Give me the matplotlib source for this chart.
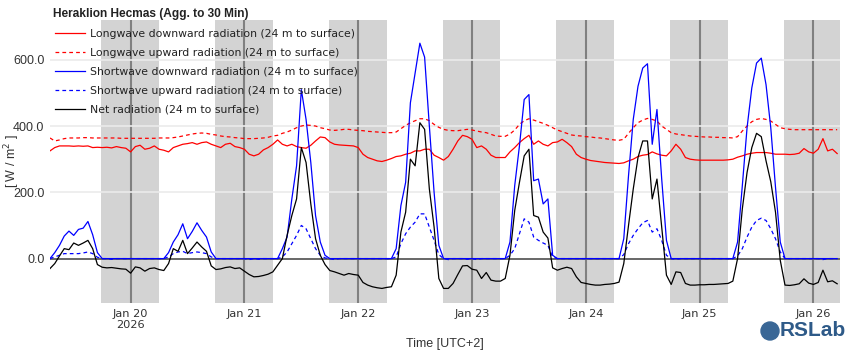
import numpy as np
import pandas as pd
import matplotlib
matplotlib.use("Agg")
import matplotlib.pyplot as plt
from matplotlib.patches import Ellipse

# hourly samples, Jan 19 07:00 .. Jan 26 05:00 (UTC+2)
start = "2026-01-19 07:00"

# W/m2
sw_down = [0, 18, 40, 68, 83, 70, 88, 92, 112, 72, 18, 0, 0, 0, 0, 0, 0,
           0, 0, 0, 0, 0, 0, 0, 0, 18, 50, 72, 105, 60, 82, 108, 85, 65, 20, 0, 0, 0, 0, 0, 0,
           0, 0, 0, 0, 0, 0, 0, 0, 30, 65, 180, 280, 510, 420, 290, 130, 50, 10, 0, 0, 0, 0, 0, 0,
           0, 0, 0, 0, 0, 0, 0, 0, 30, 160, 230, 470, 560, 650, 608, 400, 200, 40, 0, 0, 0, 0, 0, 0,
           0, 0, 0, 0, 0, 0, 0, 0, 50, 220, 340, 480, 495, 235, 240, 165, 180, 10, 0, 0, 0, 0, 0, 0,
           0, 0, 0, 0, 0, 0, 0, 0, 60, 250, 420, 520, 575, 588, 345, 450, 240, 55, 0, 0, 0, 0, 0, 0,
           0, 0, 0, 0, 0, 0, 0, 0, 50, 220, 395, 515, 590, 605, 525, 395, 215, 50, 0, 0, 0, 0, 0, 0,
           0, 0, 0, 0, 0, 0]

sw_up = [0, 5, 10, 15, 15, 15, 15, 17, 20, 15, 4, 0, 0, -2, 0, 0, 0,
         0, 0, 0, 0, 0, 0, 0, 0, 5, 15, 20, 22, 15, 18, 20, 18, 15, 5, 0, 0, 0, 0, 0, 0,
         0, -3, 0, -2, 0, 0, 0, 0, 5, 20, 45, 70, 100, 90, 60, 30, 10, 2, 0, -3, 0, 0, 0, 0,
         0, 0, 0, 0, 0, 0, 0, 0, 5, 45, 75, 95, 110, 135, 135, 95, 55, 12, 0, -3, 0, 0, 0, -2,
         0, -3, 0, 0, 0, 0, 0, 0, 10, 30, 75, 120, 110, 65, 55, 47, 40, 5, 0, 0, 0, 0, 0, 0,
         0, 0, 0, 0, 0, 0, 0, 0, 12, 45, 70, 90, 108, 115, 80, 90, 55, 10, 0, -2, 0, 0, 0, 0,
         0, 0, 0, 0, 0, 0, 0, 0, 8, 30, 65, 95, 115, 122, 115, 90, 60, 20, 0, 0, 0, 0, 0, 0,
         0, 0, -3, 0, 0, 0]

lw_down = [325, 335, 340, 340, 340, 339, 340, 339, 340, 335, 336, 335, 336, 334, 338, 335, 333,
           322, 338, 342, 330, 333, 340, 330, 327, 322, 335, 340, 345, 347, 350, 345, 350, 352, 345, 340, 335, 345, 348, 338, 335,
           330, 315, 310, 315, 328, 335, 345, 358, 345, 340, 345, 338, 335, 333, 342, 355, 367, 365, 352, 345, 343, 342, 341, 340,
           335, 315, 305, 300, 295, 293, 297, 302, 308, 310, 315, 318, 325, 325, 330, 330, 312, 305, 297, 308, 330, 355, 372, 368,
           360, 335, 340, 330, 312, 305, 305, 305, 322, 335, 350, 362, 372, 345, 355, 345, 340, 350, 352, 360, 350, 338, 315, 305,
           300, 296, 294, 292, 290, 289, 288, 287, 289, 295, 300, 308, 312, 314, 322, 316, 312, 310, 325, 345, 330, 305, 300, 298,
           297, 297, 297, 297, 297, 297, 298, 300, 306, 310, 315, 318, 320, 320, 320, 318, 315, 315, 315, 314, 315, 318, 332, 322,
           318, 330, 362, 325, 330, 317]

lw_up = [364, 355, 358, 362, 364, 364, 364, 365, 365, 364, 364, 364, 364, 364, 364, 363, 363,
         363, 363, 363, 363, 363, 363, 364, 364, 364, 365, 367, 370, 373, 376, 378, 379, 378, 375, 373, 370, 368, 367, 365, 364,
         362, 362, 362, 363, 364, 366, 370, 372, 378, 382, 388, 395, 400, 403, 402, 400, 395, 392, 388, 387, 388, 390, 390, 388,
         387, 386, 384, 383, 382, 381, 380, 380, 382, 392, 402, 410, 416, 422, 422, 416, 405, 396, 390, 387, 386, 386, 388, 390,
         388, 385, 382, 380, 375, 370, 369, 369, 376, 388, 405, 416, 422, 418, 413, 408, 402, 395, 388, 383, 378, 373, 371, 370,
         368, 367, 365, 364, 362, 360, 358, 357, 360, 378, 395, 410, 418, 423, 420, 415, 400, 390, 380, 376, 374, 372, 370, 369,
         368, 367, 367, 366, 366, 365, 365, 364, 368, 385, 400, 413, 420, 423, 420, 415, 405, 395, 392, 390, 389, 389, 389, 389,
         389, 389, 389, 389, 389, 389]

net = [-30, -15, 8, 30, 27, 47, 40, 47, 55, 30, -18, -26, -28, -27, -29, -31, -32,
       -44, -25, -28, -38, -30, -28, -33, -36, -15, 30, 22, 55, 15, 32, 50, 35, 22, -22, -33, -31, -27, -25, -30, -28,
       -38, -48, -55, -54, -51, -47, -40, -20, 0, 70, 130, 180, 335, 290, 165, 60, 10, -18, -36, -40, -45, -50, -45, -48,
       -50, -72, -80, -85, -88, -90, -87, -85, -50, 80, 140, 300, 280, 410, 390, 210, 95, -60, -90, -90, -75, -48, -22, -21,
       -32, -35, -60, -42, -65, -68, -68, -60, 10, 145, 230, 310, 330, 130, 125, 80, 62, -28, -35, -30, -26, -30, -55, -72,
       -75, -78, -80, -80, -78, -77, -75, -71, -15, 100, 210, 305, 355, 355, 180, 240, 95, -50, -78, -40, -42, -75, -80, -80,
       -79, -79, -78, -78, -77, -76, -75, -68, 0, 150, 260, 335, 378, 368, 295, 232, 140, -5, -80, -81, -79, -76, -61, -74,
       -78, -72, -35, -70, -67, -76]

day_labels = ["Jan 20\n2026", "Jan 21", "Jan 22", "Jan 23", "Jan 24", "Jan 25", "Jan 26"]
series_names = ["Longwave downward radiation (24 m to surface)",
                "Longwave upward radiation (24 m to surface)",
                "Shortwave downward radiation (24 m to surface)",
                "Shortwave upward radiation (24 m to surface)",
                "Net radiation (24 m to surface)"]

times = pd.date_range(start, periods=len(net), freq="h")
midnights = pd.date_range("2026-01-20", "2026-01-26", freq="D")

fig = plt.figure(figsize=(8.5, 3.5), dpi=100)
ax = fig.add_axes([50 / 850, 1 - 303 / 350, 790 / 850, 283 / 350])

# night shading + midnight lines
for m in midnights:
    ax.axvspan(m - pd.Timedelta(hours=6.2), m + pd.Timedelta(hours=6), color="#d3d3d3", lw=0, zorder=1)
    ax.axvline(m, color="#808080", lw=1.5, zorder=1.2)

ax.yaxis.grid(True, color="#ebebeb", lw=1.2)
ax.axhline(0, color="#444444", lw=1.1, zorder=1.6)

ax.plot(times, lw_down, color="#ff0000", lw=0.9, label=series_names[0])
ax.plot(times, lw_up, color="#ff0000", lw=0.9, ls=(0, (3, 2.5)), label=series_names[1])
ax.plot(times, sw_down, color="#0000ff", lw=0.9, label=series_names[2])
ax.plot(times, sw_up, color="#0000ff", lw=0.9, ls=(0, (3, 2.5)), label=series_names[3])
ax.plot(times, net, color="black", lw=0.9, label=series_names[4])

ax.set_xlim(pd.Timestamp(start), pd.Timestamp("2026-01-26 05:36"))
ax.set_ylim(-134, 720)
ax.set_yticks([0, 200, 400, 600])
ax.set_yticklabels(["0.0", "200.0", "400.0", "600.0"], family="Liberation Sans", fontsize=9, color="#333333")
ax.set_xticks(midnights)
ax.set_xticklabels(day_labels, family="DejaVu Sans", fontsize=8.2, color="#333333", linespacing=1.15)
ax.tick_params(length=0, pad=4)
for s in ax.spines.values():
    s.set_visible(False)

fig.text(12 / 850, 1 - 161.5 / 350, "[ W / m$^2$ ]", family="Liberation Sans", fontsize=9, color="#333333",
         rotation=90, ha="center", va="center")
ax.set_xlabel("Time [UTC+2]", family="Liberation Sans", fontsize=9, color="#333333", labelpad=6)

leg = ax.legend(loc="upper left", bbox_to_anchor=(55 / 850, 1 - 29 / 350), bbox_transform=fig.transFigure,
                frameon=False, prop={"family": "DejaVu Sans", "size": 7.8}, handlelength=2.8,
                handletextpad=0.45, labelspacing=0.82, borderpad=0, borderaxespad=0)
for t in leg.get_texts():
    t.set_color("#222222")

fig.text(53 / 850, 1 - 14 / 350, "Heraklion Hecmas (Agg. to 30 Min)", family="Liberation Sans",
         fontsize=8.6, fontweight="bold", va="center", ha="left", color="#222222")

# RSLab logo
fig.add_artist(Ellipse((770 / 850, 1 - 331 / 350), 18 / 850, 18 / 350, transform=fig.transFigure,
                       color="#3a6796"))
fig.text(780 / 850, 1 - 331 / 350, "RSLab", family="Liberation Sans", fontsize=15, fontweight="bold",
         color="#2e5a88", va="center", ha="left")

fig.savefig("out.png", dpi=100)
